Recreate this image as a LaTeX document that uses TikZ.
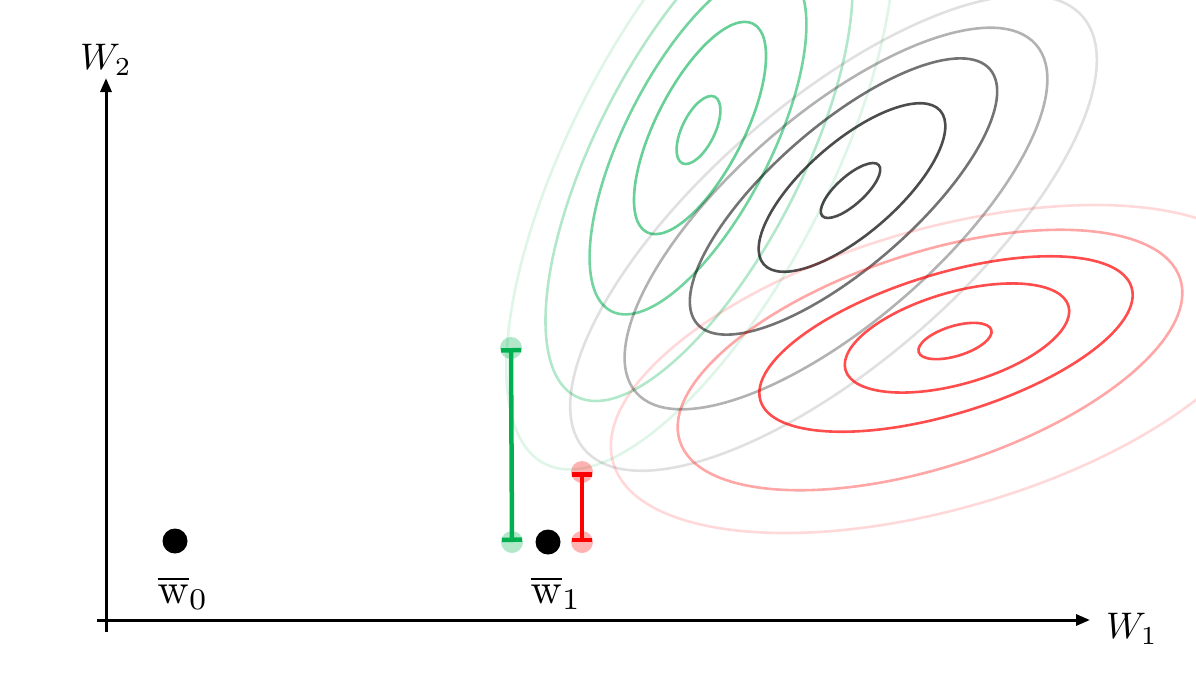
\documentclass[tikz,border=0pt]{standalone}
\usetikzlibrary{arrows.meta}
\definecolor{mygreen}{RGB}{0,176,80}
\definecolor{myred}{RGB}{255,0,0}
% style, cx, cy, angle, a, b, opacity
\newcommand{\contourell}[7]{%
  \draw[#1,draw opacity=#7,shift={(#2,#3)},rotate=#4] (0,0) ellipse [x radius=#5, y radius=#6];}
\begin{document}
\begin{tikzpicture}[x=1pt,y=-1pt,
  contour/.style={line width=2.6pt},
  gc/.style={contour,draw=mygreen},
  kc/.style={contour,draw=black},
  rc/.style={contour,draw=myred},
  dot/.style={circle,fill=black,inner sep=0pt,minimum size=25pt},
  gend/.style={circle,fill=mygreen,fill opacity=0.3,inner sep=0pt,minimum size=22pt},
  rend/.style={circle,fill=myred,fill opacity=0.3,inner sep=0pt,minimum size=22pt},
  errbar/.style={line width=4.5pt,arrows={Bar[width=20pt]-Bar[width=20pt]}},
  axis/.style={line width=3pt,arrows={-Triangle[length=14pt,width=11pt]}},
  lab/.style={inner sep=0pt}
]
\useasboundingbox (0,0) rectangle (1196,673);
\begin{scope}
\clip (0,0) rectangle (1196,673);
% green family
\contourell{gc}{698.5}{130}{64}{37}{16.4}{0.6}
\contourell{gc}{700}{128}{63}{117}{44}{0.6}
\contourell{gc}{698}{141}{63}{191}{73}{0.55}
\contourell{gc}{699}{155}{63}{271}{103}{0.3}
\contourell{gc}{700}{159}{63}{342}{130}{0.13}
% grey family
\contourell{kc}{850.5}{190.5}{42}{38}{14}{0.7}
\contourell{kc}{852}{187.5}{41}{117}{46}{0.7}
\contourell{kc}{843.5}{196.5}{41}{194}{71}{0.55}
\contourell{kc}{836}{218.5}{41}{265}{104}{0.3}
\contourell{kc}{833.5}{233}{41}{330}{130}{0.12}
% red family
\contourell{rc}{955}{341}{17}{38}{15}{0.7}
\contourell{rc}{957}{338}{16}{116}{46}{0.7}
\contourell{rc}{946}{344}{17}{194}{70}{0.7}
\contourell{rc}{930}{360}{18}{263}{107}{0.35}
\contourell{rc}{940}{369}{16}{340}{140}{0.15}
\end{scope}
% axes
\coordinate (yb) at (106,632);
\coordinate (yt) at (106,78);
\coordinate (xl) at (97,620);
\coordinate (xr) at (1090,620);
\draw[axis] (yb) -- (yt);
\draw[axis] (xl) -- (xr);
\node[lab,scale=3.7] (lw2) at (106,60) {$W_2$};
\node[lab,scale=3.7] (lw1) at (1132,629) {$W_1$};
% points
\node[dot] (w0) at (175,541) {};
\node[dot] (w1) at (548,542) {};
\node[lab,scale=4.3] (lbw0) at (183,593) {$\overline{\mathrm{w}}_0$};
\node[lab,scale=4.3] (lbw1) at (556,593) {$\overline{\mathrm{w}}_1$};
% error bars
\node[gend] (gtop) at (511,348) {};
\node[gend] (gbot) at (512,542) {};
\node[rend] (rtop) at (582,472) {};
\node[rend] (rbot) at (582,542) {};
\draw[errbar,mygreen] (gtop.center) -- (gbot.center);
\draw[errbar,myred] (rtop.center) -- (rbot.center);
\end{tikzpicture}
\end{document}
